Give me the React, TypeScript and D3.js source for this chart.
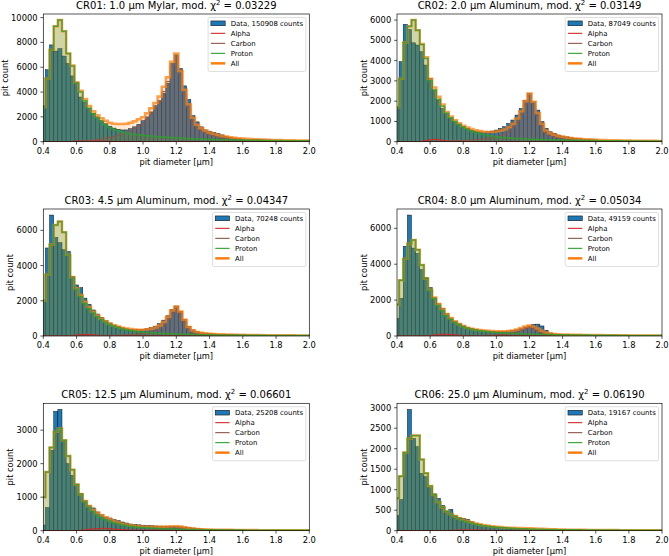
import React from 'react';
import * as d3 from 'd3';

// ---------- data ----------
const BIN_WIDTH = 0.025;
const BIN_CENTERS = d3.range(65).map((i) => +(0.4 + i * BIN_WIDTH).toFixed(4));
const X_TICKS = [0.4, 0.6, 0.8, 1.0, 1.2, 1.4, 1.6, 1.8, 2.0];

const PANEL_IDS = ['CR01', 'CR02', 'CR03', 'CR04', 'CR05', 'CR06'];
const FOILS = ['1.0 µm Mylar', '2.0 µm Aluminum', '4.5 µm Aluminum', '8.0 µm Aluminum', '12.5 µm Aluminum', '25.0 µm Aluminum'];
const CHI2 = ['0.03229', '0.03149', '0.04347', '0.05034', '0.06601', '0.06190'];
const COUNTS = [150908, 87049, 70248, 49159, 25208, 19167];
const Y_TICKS = [
  [0, 2000, 4000, 6000, 8000, 10000],
  [0, 1000, 2000, 3000, 4000, 5000, 6000],
  [0, 2000, 4000, 6000],
  [0, 2000, 4000, 6000],
  [0, 1000, 2000, 3000],
  [0, 500, 1000, 1500, 2000, 2500, 3000],
];

const CR01_DATA = [2900,5800,7800,7300,7500,6900,6300,5300, 4800,3600,3200,2700,2300,2000,1700,1450, 1250,1100,1000,950,950,1050,1200,1400, 1700,2000,2400,2900,3300,3900,4700,6300, 7000,5900,4500,3400,2100,1600,1200,950, 850,750,650,550,420,350,300,260, 220,200,185,170,160,150,140,130, 120,110,100,95,90,85,80,75, 70];
const CR01_PROTON = [2800,5100,7400,9300,9800,8900,7100,6100, 4700,4000,3300,2700,2250,1900,1600,1350, 1150,1000,880,780,700,640,590,550, 510,480,450,420,395,370,350,330, 310,290,275,260,245,230,218,206, 195,185,175,166,158,150,143,136, 130,124,118,113,108,103,99,95, 91,87,84,81,78,75,72,70, 68];
const CR01_CARBON = [0,0,0,0,0,2,5,10, 20,40,70,100,140,180,230,290, 350,420,520,620,740,880,1050,1250, 1450,1800,2250,2700,3250,4050,4850,6100, 6800,5400,3900,2750,1680,1140,870,700, 550,450,360,300,250,210,180,150, 130,110,95,85,75,65,58,52, 46,42,38,34,30,28,26,24, 22];
const CR01_ALPHA = [0,0,0,0,0,0,10,25, 45,60,70,70,65,58,50,42, 35,28,22,18,14,11,9,7, 6,5,5,4,4,3,3,3, 2,2,2,2,2,1,1,1, 1,1,1,1,1,1,0,0, 0,0,0,0,0,0,0,0, 0,0,0,0,0,0,0,0, 0];

const CR02_DATA = [1700,3950,5790,5540,4880,4770,4440,3780, 3120,2550,2050,1640,1400,1150,990,870, 740,660,575,525,490,480,490,525, 575,660,740,900,1070,1315,1640,2050, 2380,1970,1560,990,660,490,410,330, 280,240,200,170,150,130,115,100, 90,80,75,70,65,60,55,50, 48,45,42,40,38,36,34,32, 30];
const CR02_PROTON = [1700,3100,4900,5700,6000,5500,4800,4100, 3000,2550,2100,1750,1400,1180,1000,850, 720,620,530,460,400,350,310,280, 250,225,205,190,175,162,150,140, 130,122,115,108,102,96,91,86, 82,78,74,70,67,64,61,58, 55,52,50,48,46,44,42,40, 38,36,35,34,33,32,31,30, 29];
const CR02_CARBON = [0,0,0,0,0,0,2,3, 5,8,12,18,25,33,42,52, 62,75,90,105,120,140,165,200, 250,310,390,520,700,980,1350,1850, 2250,1850,1300,780,450,320,250,200, 160,130,105,88,74,63,54,47, 41,36,32,28,25,22,20,18, 16,15,14,13,12,11,10,10, 9];
const CR02_ALPHA = [0,0,0,0,0,0,20,60, 100,115,100,70,45,25,15,10, 8,6,5,4,3,3,2,2, 2,1,1,1,1,1,1,1, 1,1,0,0,0,0,0,0, 0,0,0,0,0,0,0,0, 0,0,0,0,0,0,0,0, 0,0,0,0,0,0,0,0, 0];

const CR03_DATA = [2050,5000,6870,5600,5300,4900,4800,3400, 2900,2750,2150,1800,1480,1250,1050,880, 740,620,540,480,420,380,360,360, 380,420,470,560,700,900,1150,1500, 1700,1400,950,550,350,250,190,160, 140,120,105,95,85,78,72,66, 60,56,52,48,45,42,40,38, 36,34,32,30,28,27,26,25, 24];
const CR03_PROTON = [2000,3500,5200,6300,6500,5900,4600,3300, 2650,2250,1850,1550,1300,1100,920,780, 660,560,480,410,355,310,275,245, 220,200,182,166,152,140,130,121, 113,106,100,94,88,83,78,74, 70,66,63,60,57,54,51,49, 47,45,43,41,39,37,35,34, 33,32,31,30,29,28,27,26, 25];
const CR03_CARBON = [0,0,0,0,0,0,0,0, 3,5,8,12,16,20,25,30, 36,43,50,58,68,80,95,115, 140,175,230,310,440,650,950,1320, 1560,1280,830,420,230,150,105,80, 62,50,42,36,31,27,24,21, 19,17,15,14,13,12,11,10, 9,9,8,8,7,7,6,6, 6];
const CR03_ALPHA = [0,0,0,0,0,0,10,30, 55,75,85,80,65,50,36,25, 17,12,8,6,4,3,3,2, 2,2,1,1,1,1,1,1, 0,0,0,0,0,0,0,0, 0,0,0,0,0,0,0,0, 0,0,0,0,0,0,0,0, 0,0,0,0,0,0,0,0, 0];

const CR04_DATA = [980,2100,5000,6740,4900,4600,3700,3250, 2700,2150,1800,1550,1250,1000,820,700, 580,480,420,370,330,300,280,260, 250,250,260,280,310,350,420,500, 560,650,660,560,320,170,120,100, 90,80,72,65,58,52,48,44, 40,37,34,31,29,27,25,23, 22,21,20,19,18,17,16,15, 14];
const CR04_PROTON = [1750,3100,4300,5150,5350,4800,3950,3200, 2550,2080,1700,1400,1120,920,750,620, 520,430,370,330,295,265,240,220, 200,185,170,158,146,136,127,118, 110,103,97,91,86,81,76,72, 68,64,61,58,55,52,49,47, 45,43,41,39,37,35,33,32, 31,30,29,28,27,26,25,24, 23];
const CR04_CARBON = [0,0,0,0,0,0,0,0, 0,0,0,2,3,5,7,9, 12,15,19,24,30,37,45,55, 67,82,100,125,160,230,320,410, 470,430,320,200,110,65,42,30, 22,17,14,12,10,9,8,7, 6,6,5,5,4,4,4,3, 3,3,3,2,2,2,2,2, 2];
const CR04_ALPHA = [0,0,0,0,0,0,0,10, 30,60,90,100,100,85,65,45, 30,20,12,8,6,4,3,2, 2,1,1,1,1,1,1,1, 0,0,0,0,0,0,0,0, 0,0,0,0,0,0,0,0, 0,0,0,0,0,0,0,0, 0,0,0,0,0,0,0,0, 0];

const CR05_DATA = [170,690,2400,3560,3620,2700,2000,1650, 1380,1120,900,760,680,560,480,410, 380,330,300,260,230,200,190,175, 165,155,148,142,138,135,132,130, 128,120,110,95,80,65,55,48, 42,38,35,32,30,28,26,24, 22,21,20,19,18,17,16,15, 14,13,12,12,11,11,10,10, 9];
const CR05_PROTON = [1000,1750,2480,2950,3050,2700,2230,1820, 1380,1080,860,700,570,470,390,330, 280,240,205,178,155,136,120,106, 95,85,77,70,64,58,53,49, 45,42,39,36,34,32,30,28, 26,25,24,23,22,21,20,19, 18,17,16,16,15,15,14,14, 13,13,12,12,11,11,10,10, 10];
const CR05_CARBON = [0,0,0,0,0,0,0,0, 0,0,0,0,0,0,0,0, 0,0,0,1,3,5,7,10, 18,24,30,38,45,55,65,75, 80,75,60,40,25,15,10,7, 5,4,3,3,2,2,2,1, 1,1,1,1,1,1,1,1, 0,0,0,0,0,0,0,0, 0];
const CR05_ALPHA = [0,0,0,0,0,0,0,0, 0,10,25,40,55,65,70,70, 62,50,40,32,26,21,17,14, 12,10,9,8,7,7,6,6, 5,5,4,4,4,3,3,3, 3,2,2,2,2,2,2,1, 1,1,1,1,1,1,1,1, 1,1,1,1,0,0,0,0, 0];

const CR06_DATA = [370,760,1900,2960,2250,2050,1400,1320, 1050,900,790,620,480,520,380,330, 300,280,220,180,150,130,115,100, 90,80,72,65,58,52,47,43, 40,36,33,30,28,26,24,22, 20,19,18,17,16,15,14,13, 12,12,11,11,10,10,9,9, 8,8,8,7,7,7,6,6, 6];
const CR06_PROTON = [790,1330,1910,2250,2320,2320,1740,1400, 1090,870,700,570,470,400,340,290, 250,215,185,160,140,122,108,96, 86,77,70,64,58,53,49,45, 42,39,36,34,32,30,28,26, 25,24,23,22,21,20,19,18, 18,17,16,16,15,15,14,14, 13,13,12,12,12,11,11,11, 10];
const CR06_CARBON = [0,0,0,0,0,0,0,0, 0,0,0,0,0,0,0,0, 0,0,0,0,1,2,3,4, 5,6,7,8,10,12,14,15, 16,15,13,10,7,5,4,3, 2,2,2,1,1,1,1,1, 1,1,1,1,0,0,0,0, 0,0,0,0,0,0,0,0, 0];
const CR06_ALPHA = [0,0,0,0,0,0,0,0, 0,0,0,2,5,8,12,16, 19,20,20,18,15,12,10,8, 6,5,4,3,3,2,2,2, 1,1,1,1,1,1,1,1, 0,0,0,0,0,0,0,0, 0,0,0,0,0,0,0,0, 0,0,0,0,0,0,0,0, 0];

const DATA = [CR01_DATA, CR02_DATA, CR03_DATA, CR04_DATA, CR05_DATA, CR06_DATA];
const PROTON = [CR01_PROTON, CR02_PROTON, CR03_PROTON, CR04_PROTON, CR05_PROTON, CR06_PROTON];
const CARBON = [CR01_CARBON, CR02_CARBON, CR03_CARBON, CR04_CARBON, CR05_CARBON, CR06_CARBON];
const ALPHA = [CR01_ALPHA, CR02_ALPHA, CR03_ALPHA, CR04_ALPHA, CR05_ALPHA, CR06_ALPHA];

// ---------- layout / style ----------
const W = 669, H = 556;
const COLS: [number, number][] = [[43.3, 309.3], [397, 662]];
const ROWS: [number, number][] = [[14, 141.7], [209, 336], [403.3, 530.7]];
const FONT = '"DejaVu Sans", sans-serif';
const TICK_FS = 8.3, LABEL_FS = 8.3, TITLE_FS = 10, LEG_FS = 6.9;
const C_DATA = '#1f77b4', C_ALPHA = '#d62728', C_CARBON = '#8c564b', C_PROTON = '#2ca02c', C_ALL = '#ff7f0e';

let ctx: CanvasRenderingContext2D | null = null;
function measure(text: string, fs: number): number {
  if (!ctx) ctx = document.createElement('canvas').getContext('2d');
  if (!ctx) return text.length * fs * 0.6;
  ctx.font = `${fs}px "DejaVu Sans"`;
  return ctx.measureText(text).width;
}

function stepPoints(vals: number[]): [number, number][] {
  const half = BIN_WIDTH / 2;
  const pts: [number, number][] = [[BIN_CENTERS[0] - half, 0]];
  vals.forEach((v, i) => {
    pts.push([BIN_CENTERS[i] - half, v]);
    pts.push([BIN_CENTERS[i] + half, v]);
  });
  pts.push([BIN_CENTERS[BIN_CENTERS.length - 1] + half, 0]);
  return pts;
}

function Panel({ idx }: { idx: number }) {
  const col = idx % 2, row = Math.floor(idx / 2);
  const [x0, x1] = COLS[col];
  const [y0, y1] = ROWS[row];
  const data = DATA[idx], proton = PROTON[idx], carbon = CARBON[idx], alpha = ALPHA[idx];
  const all = proton.map((v, i) => v + carbon[i] + alpha[i]);
  const yMax = Math.max(d3.max(data) as number, d3.max(all) as number) * 1.05;
  const x = d3.scaleLinear().domain([0.4, 2.0]).range([x0, x1]);
  const y = d3.scaleLinear().domain([0, yMax]).range([y1, y0]);
  const line = d3.line<[number, number]>().x((d) => x(d[0])).y((d) => y(d[1]));
  const clipId = `clip${idx}`;
  const half = BIN_WIDTH / 2;
  const yTicks = Y_TICKS[idx];
  const maxTickW = d3.max(yTicks, (t) => measure(String(t), TICK_FS)) as number;
  const tickLen = 2.9, tickPad = 2.9;
  const ylabelX = Math.max(x0 - tickLen - tickPad - maxTickW - 3.3, 7.6);

  // legend
  const legTexts = [`Data, ${COUNTS[idx]} counts`, 'Alpha', 'Carbon', 'Proton', 'All'];
  const textW = d3.max(legTexts, (t) => measure(t, LEG_FS)) as number;
  const pad = 2.8, handleL = 14.3, htPad = 5.5;
  const legW = pad + handleL + htPad + textW + pad;
  const legR = x1 - 3.45, legT = y0 + 3.45;
  const legL = legR - legW;
  const legH = 54;
  const rowY = (k: number) => legT + 5.9 + k * 10;
  const hx0 = legL + pad, hx1 = hx0 + handleL;

  return (
    <g fontFamily={FONT}>
      <defs>
        <clipPath id={clipId}>
          <rect x={x0} y={y0} width={x1 - x0} height={y1 - y0} />
        </clipPath>
      </defs>
      <g clipPath={`url(#${clipId})`}>
        {BIN_CENTERS.map((c, i) => (
          <rect key={i} x={x(c - half)} width={x(c + half) - x(c - half)} y={y(data[i])} height={y(0) - y(data[i])}
            fill={C_DATA} stroke="#000" strokeWidth={0.5} strokeOpacity={0.85} />
        ))}
        <path d={line(stepPoints(alpha)) + 'Z'} fill={C_ALPHA} fillOpacity={0.3} stroke="none" />
        <path d={line(stepPoints(carbon)) + 'Z'} fill={C_CARBON} fillOpacity={0.3} stroke="none" />
        <path d={line(stepPoints(proton)) + 'Z'} fill={C_PROTON} fillOpacity={0.26} stroke="none" />
        <path d={line(stepPoints(all)) + 'Z'} fill={C_ALL} fillOpacity={0.16} stroke="none" />
        <path d={line(stepPoints(alpha)) as string} fill="none" stroke={C_ALPHA} strokeWidth={1} />
        <path d={line(stepPoints(carbon)) as string} fill="none" stroke={C_CARBON} strokeWidth={1} />
        <path d={line(stepPoints(all)) as string} fill="none" stroke={C_ALL} strokeWidth={2.5} strokeOpacity={0.75} strokeLinejoin="miter" />
        <path d={line(stepPoints(proton)) as string} fill="none" stroke={C_PROTON} strokeWidth={1.5} strokeOpacity={0.8} />
      </g>
      <rect x={x0} y={y0} width={x1 - x0} height={y1 - y0} fill="none" stroke="#000" strokeWidth={0.66} />
      {X_TICKS.map((t) => (
        <g key={t}>
          <line x1={x(t)} x2={x(t)} y1={y1} y2={y1 + tickLen} stroke="#000" strokeWidth={0.66} />
          <text x={x(t)} y={y1 + tickLen + tickPad + 6.2} textAnchor="middle" fontSize={TICK_FS} fill="#000">{t.toFixed(1)}</text>
        </g>
      ))}
      {yTicks.map((t) => (
        <g key={t}>
          <line x1={x0 - tickLen} x2={x0} y1={y(t)} y2={y(t)} stroke="#000" strokeWidth={0.66} />
          <text x={x0 - tickLen - tickPad} y={y(t) + 3.0} textAnchor="end" fontSize={TICK_FS} fill="#000">{t}</text>
        </g>
      ))}
      <text x={(x0 + x1) / 2} y={y1 + 23} textAnchor="middle" fontSize={LABEL_FS} fill="#000">pit diameter [µm]</text>
      <text transform={`translate(${ylabelX},${(y0 + y1) / 2}) rotate(-90)`} textAnchor="middle" fontSize={LABEL_FS} fill="#000">pit count</text>
      <text x={(x0 + x1) / 2} y={y0 - 5} textAnchor="middle" fontSize={TITLE_FS} fill="#000">
        {`${PANEL_IDS[idx]}: ${FOILS[idx]}, mod. χ`}
        <tspan dy={-4} fontSize={7}>2</tspan>
        <tspan dy={4}>{` = ${CHI2[idx]}`}</tspan>
      </text>
      <g>
        <rect x={legL} y={legT} width={legW} height={legH} rx={1.4} fill="#fff" fillOpacity={0.8} stroke="#ccc" strokeWidth={0.66} />
        <rect x={hx0} y={rowY(0) - 2.4} width={handleL} height={4.8} fill={C_DATA} stroke="#000" strokeWidth={0.5} />
        {[C_ALPHA, C_CARBON, C_PROTON].map((c, k) => (
          <line key={c} x1={hx0} x2={hx1} y1={rowY(k + 1)} y2={rowY(k + 1)} stroke={c} strokeWidth={1.1} />
        ))}
        <line x1={hx0} x2={hx1} y1={rowY(4)} y2={rowY(4)} stroke={C_ALL} strokeWidth={2.5} />
        {legTexts.map((t, k) => (
          <text key={t} x={hx1 + htPad} y={rowY(k) + 2.5} fontSize={LEG_FS} fill="#000">{t}</text>
        ))}
      </g>
    </g>
  );
}

export default function App() {
  return (
    <svg width={W} height={H} viewBox={`0 0 ${W} ${H}`} style={{ position: 'absolute', left: 0, top: 0, background: '#fff' }}>
      <rect x={0} y={0} width={W} height={H} fill="#fff" />
      {PANEL_IDS.map((_, i) => <Panel key={i} idx={i} />)}
    </svg>
  );
}
